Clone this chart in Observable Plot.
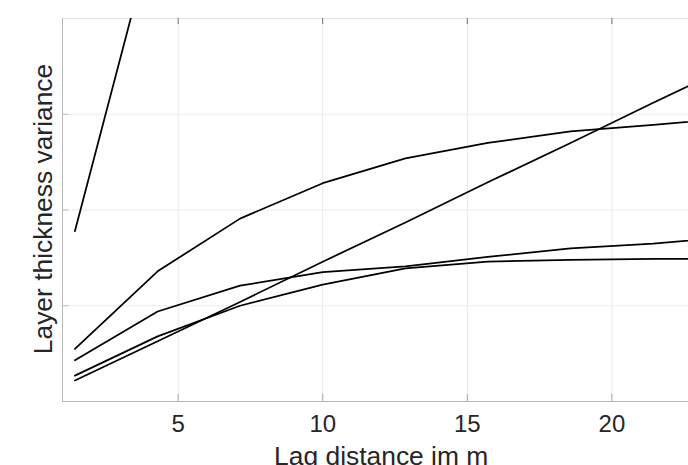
<!DOCTYPE html>
<html>
<head>
<meta charset="utf-8">
<script src="https://cdn.jsdelivr.net/npm/d3@7"></script>
<script src="https://cdn.jsdelivr.net/npm/@observablehq/plot@0.6"></script>
<style>
  html, body { margin: 0; padding: 0; background: #fff; }
  #chart { width: 688px; height: 465px; overflow: hidden; }
</style>
</head>
<body>
<div id="chart"></div>
<script>
// Lag bin centres (m)
const lag = [1.43, 4.29, 7.14, 10, 12.86, 15.71, 18.57, 21.43, 24.29];

// Experimental / model variogram curves of layer thickness
const seriesA = [1.78, 5.07];                                            // steep, leaves the frame
const seriesB = [0.55, 1.36, 1.91, 2.28, 2.54, 2.70, 2.82, 2.89, 2.96];  // upper curve
const seriesC = [0.43, 0.94, 1.21, 1.35, 1.41, 1.51, 1.60, 1.65, 1.72];  // middle curve
const seriesD = [0.27, 0.68, 1.00, 1.22, 1.39, 1.46, 1.48, 1.49, 1.49];  // flattening curve
const seriesE = [0.22, 0.63, 1.04, 1.46, 1.87, 2.29, 2.70, 3.12, 3.53];  // straight trend

const xTicks = [5, 10, 15, 20];
const yTicks = [1, 2, 3];
const xDomain = [1, 22.65];
const yDomain = [0, 4];
const xLabel = "Lag distance im m";
const yLabel = "Layer thickness variance";

const allSeries = {A: seriesA, B: seriesB, C: seriesC, D: seriesD, E: seriesE};
const rows = [];
for (const [name, values] of Object.entries(allSeries)) {
  values.forEach((v, i) => rows.push({series: name, lag: lag[i], v}));
}

const width = 688, height = 465;
const marginLeft = 62, marginRight = 0, marginTop = 18, marginBottom = 64;
const frameW = width - marginLeft - marginRight;
const frameH = height - marginTop - marginBottom;
const ink = "#262626";

const chart = Plot.plot({
  width, height, marginLeft, marginRight, marginTop, marginBottom,
  style: {fontFamily: "'Liberation Sans', Arial, Helvetica, sans-serif", background: "#fff", color: ink},
  x: {domain: xDomain, axis: null},
  y: {domain: yDomain, axis: null},
  marks: [
    Plot.gridX(xTicks, {stroke: "#e8e8e8", strokeOpacity: 1}),
    Plot.gridY(yTicks, {stroke: "#ececec", strokeOpacity: 1}),
    // box edges
    Plot.ruleY([yDomain[1]], {stroke: "#e2e2e2"}),
    Plot.ruleY([yDomain[0]], {stroke: "#b8b8b8"}),
    Plot.ruleX([xDomain[0]], {stroke: "#b8b8b8"}),
    // inward tick marks (y1 = top edge, y2 = bottom edge)
    Plot.ruleX(xTicks, {y1: yDomain[1], y2: yDomain[0], insetTop: frameH - 7, stroke: "#a8a8a8"}),
    Plot.ruleX(xTicks, {y1: yDomain[1], y2: yDomain[0], insetBottom: frameH - 6, stroke: "#707070"}),
    Plot.ruleY(yTicks, {x1: xDomain[0], x2: xDomain[1], insetRight: frameW - 6.5, stroke: "#bdbdbd"}),
    // curves
    Plot.line(rows, {x: "lag", y: "v", z: "series", stroke: "#000", strokeWidth: 1.75, clip: true}),
    // tick labels
    Plot.text(xTicks, {x: d => d, frameAnchor: "bottom", lineAnchor: "bottom", dy: 30, text: d => String(d), fontSize: 24, fill: ink}),
    // axis titles
    Plot.text([xLabel], {frameAnchor: "bottom", textAnchor: "middle", lineAnchor: "bottom", dx: 5.7, dy: 63.5, text: d => d, fontSize: 26.4, fill: ink}),
    Plot.text([yLabel], {frameAnchor: "left", textAnchor: "middle", lineAnchor: "bottom", rotate: -90, dx: -10.3, dy: -1, text: d => d, fontSize: 26.4, fill: ink})
  ]
});
document.getElementById("chart").appendChild(chart);
</script>
</body>
</html>
